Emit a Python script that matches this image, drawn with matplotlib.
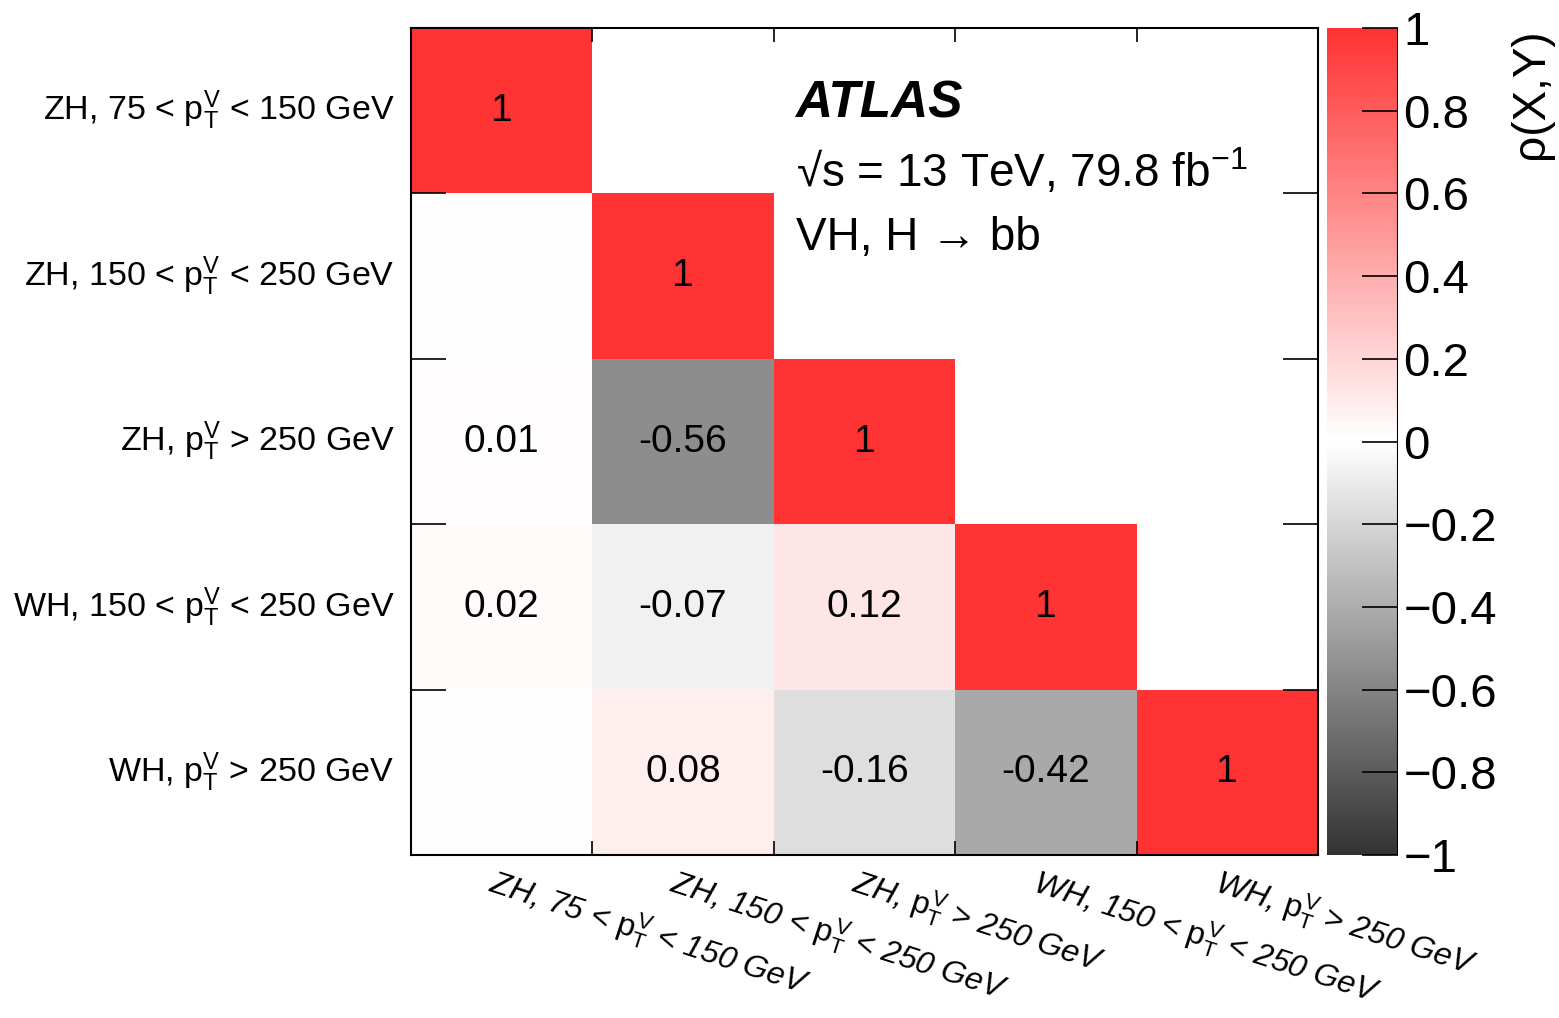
import numpy as np
import matplotlib
matplotlib.use('Agg')
import matplotlib.pyplot as plt
from matplotlib.colors import LinearSegmentedColormap

plt.rcParams['font.family'] = ['Liberation Sans', 'DejaVu Sans']
plt.rcParams['mathtext.fontset'] = 'custom'
plt.rcParams['mathtext.rm'] = 'Liberation Sans'
plt.rcParams['mathtext.it'] = 'Liberation Sans:italic'
plt.rcParams['mathtext.bf'] = 'Liberation Sans:bold'

# bins (same order on both axes)
labels = [
    r'ZH, 75 < $\mathrm{p_{T}^{V}}$ < 150 GeV',
    r'ZH, 150 < $\mathrm{p_{T}^{V}}$ < 250 GeV',
    r'ZH, $\mathrm{p_{T}^{V}}$ > 250 GeV',
    r'WH, 150 < $\mathrm{p_{T}^{V}}$ < 250 GeV',
    r'WH, $\mathrm{p_{T}^{V}}$ > 250 GeV',
]

# lower triangle of correlation matrix, row i = y bin from top
row0 = [1]
row1 = [0.0, 1]
row2 = [0.01, -0.56, 1]
row3 = [0.02, -0.07, 0.12, 1]
row4 = [0.0, 0.08, -0.16, -0.42, 1]
rows = [row0, row1, row2, row3, row4]

cb_ticks = [-1, -0.8, -0.6, -0.4, -0.2, 0, 0.2, 0.4, 0.6, 0.8, 1]

n = len(labels)
corr = np.full((n, n), np.nan)
for i, r in enumerate(rows):
    corr[i, :len(r)] = r

cmap = LinearSegmentedColormap.from_list(
    'atlas_corr', [(0.2, 0.2, 0.2), (1, 1, 1), (1, 0.2, 0.2)])

fig = plt.figure(figsize=(15.59, 10.18), dpi=100)
ax = fig.add_axes([0.2636, 0.1601, 0.5818, 0.8124])
cax = fig.add_axes([0.8512, 0.1601, 0.0455, 0.8124])

mesh = ax.pcolormesh(np.arange(n + 1), np.arange(n + 1), corr,
                     cmap=cmap, vmin=-1, vmax=1)
ax.set_xlim(0, n)
ax.set_ylim(n, 0)

# numbers in the cells (zeros are not printed)
for i in range(n):
    for j in range(n):
        v = corr[i, j]
        if np.isnan(v) or v == 0:
            continue
        ax.text(j + 0.5, i + 0.5, f'{v:g}', ha='center', va='center',
                fontsize=28)

# ticks at bin edges, inward
ax.set_xticks(np.arange(1, n))
ax.set_yticks(np.arange(1, n))
ax.set_xticklabels([])
ax.set_yticklabels([])
ax.tick_params(axis='y', direction='in', length=25, width=1.2,
               left=True, right=True)
ax.tick_params(axis='x', direction='in', length=10, width=1.2,
               top=True, bottom=True)
for s in ax.spines.values():
    s.set_linewidth(1.5)

# bin labels
for i, lab in enumerate(labels):
    ax.text(-0.09, i + 0.5, lab, ha='right', va='center', fontsize=24.5)
for j, lab in enumerate(labels):
    ax.text(j + 0.47, n + 0.05, lab, ha='left', va='top', fontsize=23,
            rotation=-18, rotation_mode='anchor', style='italic')

# ATLAS label
ax.text(2.12, 0.46, 'ATLAS', fontsize=37, weight='bold', style='italic',
        ha='left', va='center')
ax.text(2.12, 0.87, '\u221as = 13 TeV, 79.8 fb$^{\\mathrm{-1}}$',
        fontsize=33, ha='left', va='center')
ax.text(2.12, 1.27, 'VH, H \u2192 bb', fontsize=33,
        ha='left', va='center')

# colour bar
cb = fig.colorbar(mesh, cax=cax)
cb.outline.set_visible(False)
cb.set_ticks(cb_ticks)
cb.set_ticklabels([f'{t:g}'.replace('-', '\u2212') for t in cb_ticks])
cax.tick_params(direction='in', length=26, width=1.2, labelsize=34, pad=4)
cax.axvline(1, color='black', lw=1.5)
fig.text(0.996, 0.9725, '\u03c1(X,Y)', rotation=90, ha='right', va='top',
         fontsize=33)

fig.savefig('out.png', dpi=100)
